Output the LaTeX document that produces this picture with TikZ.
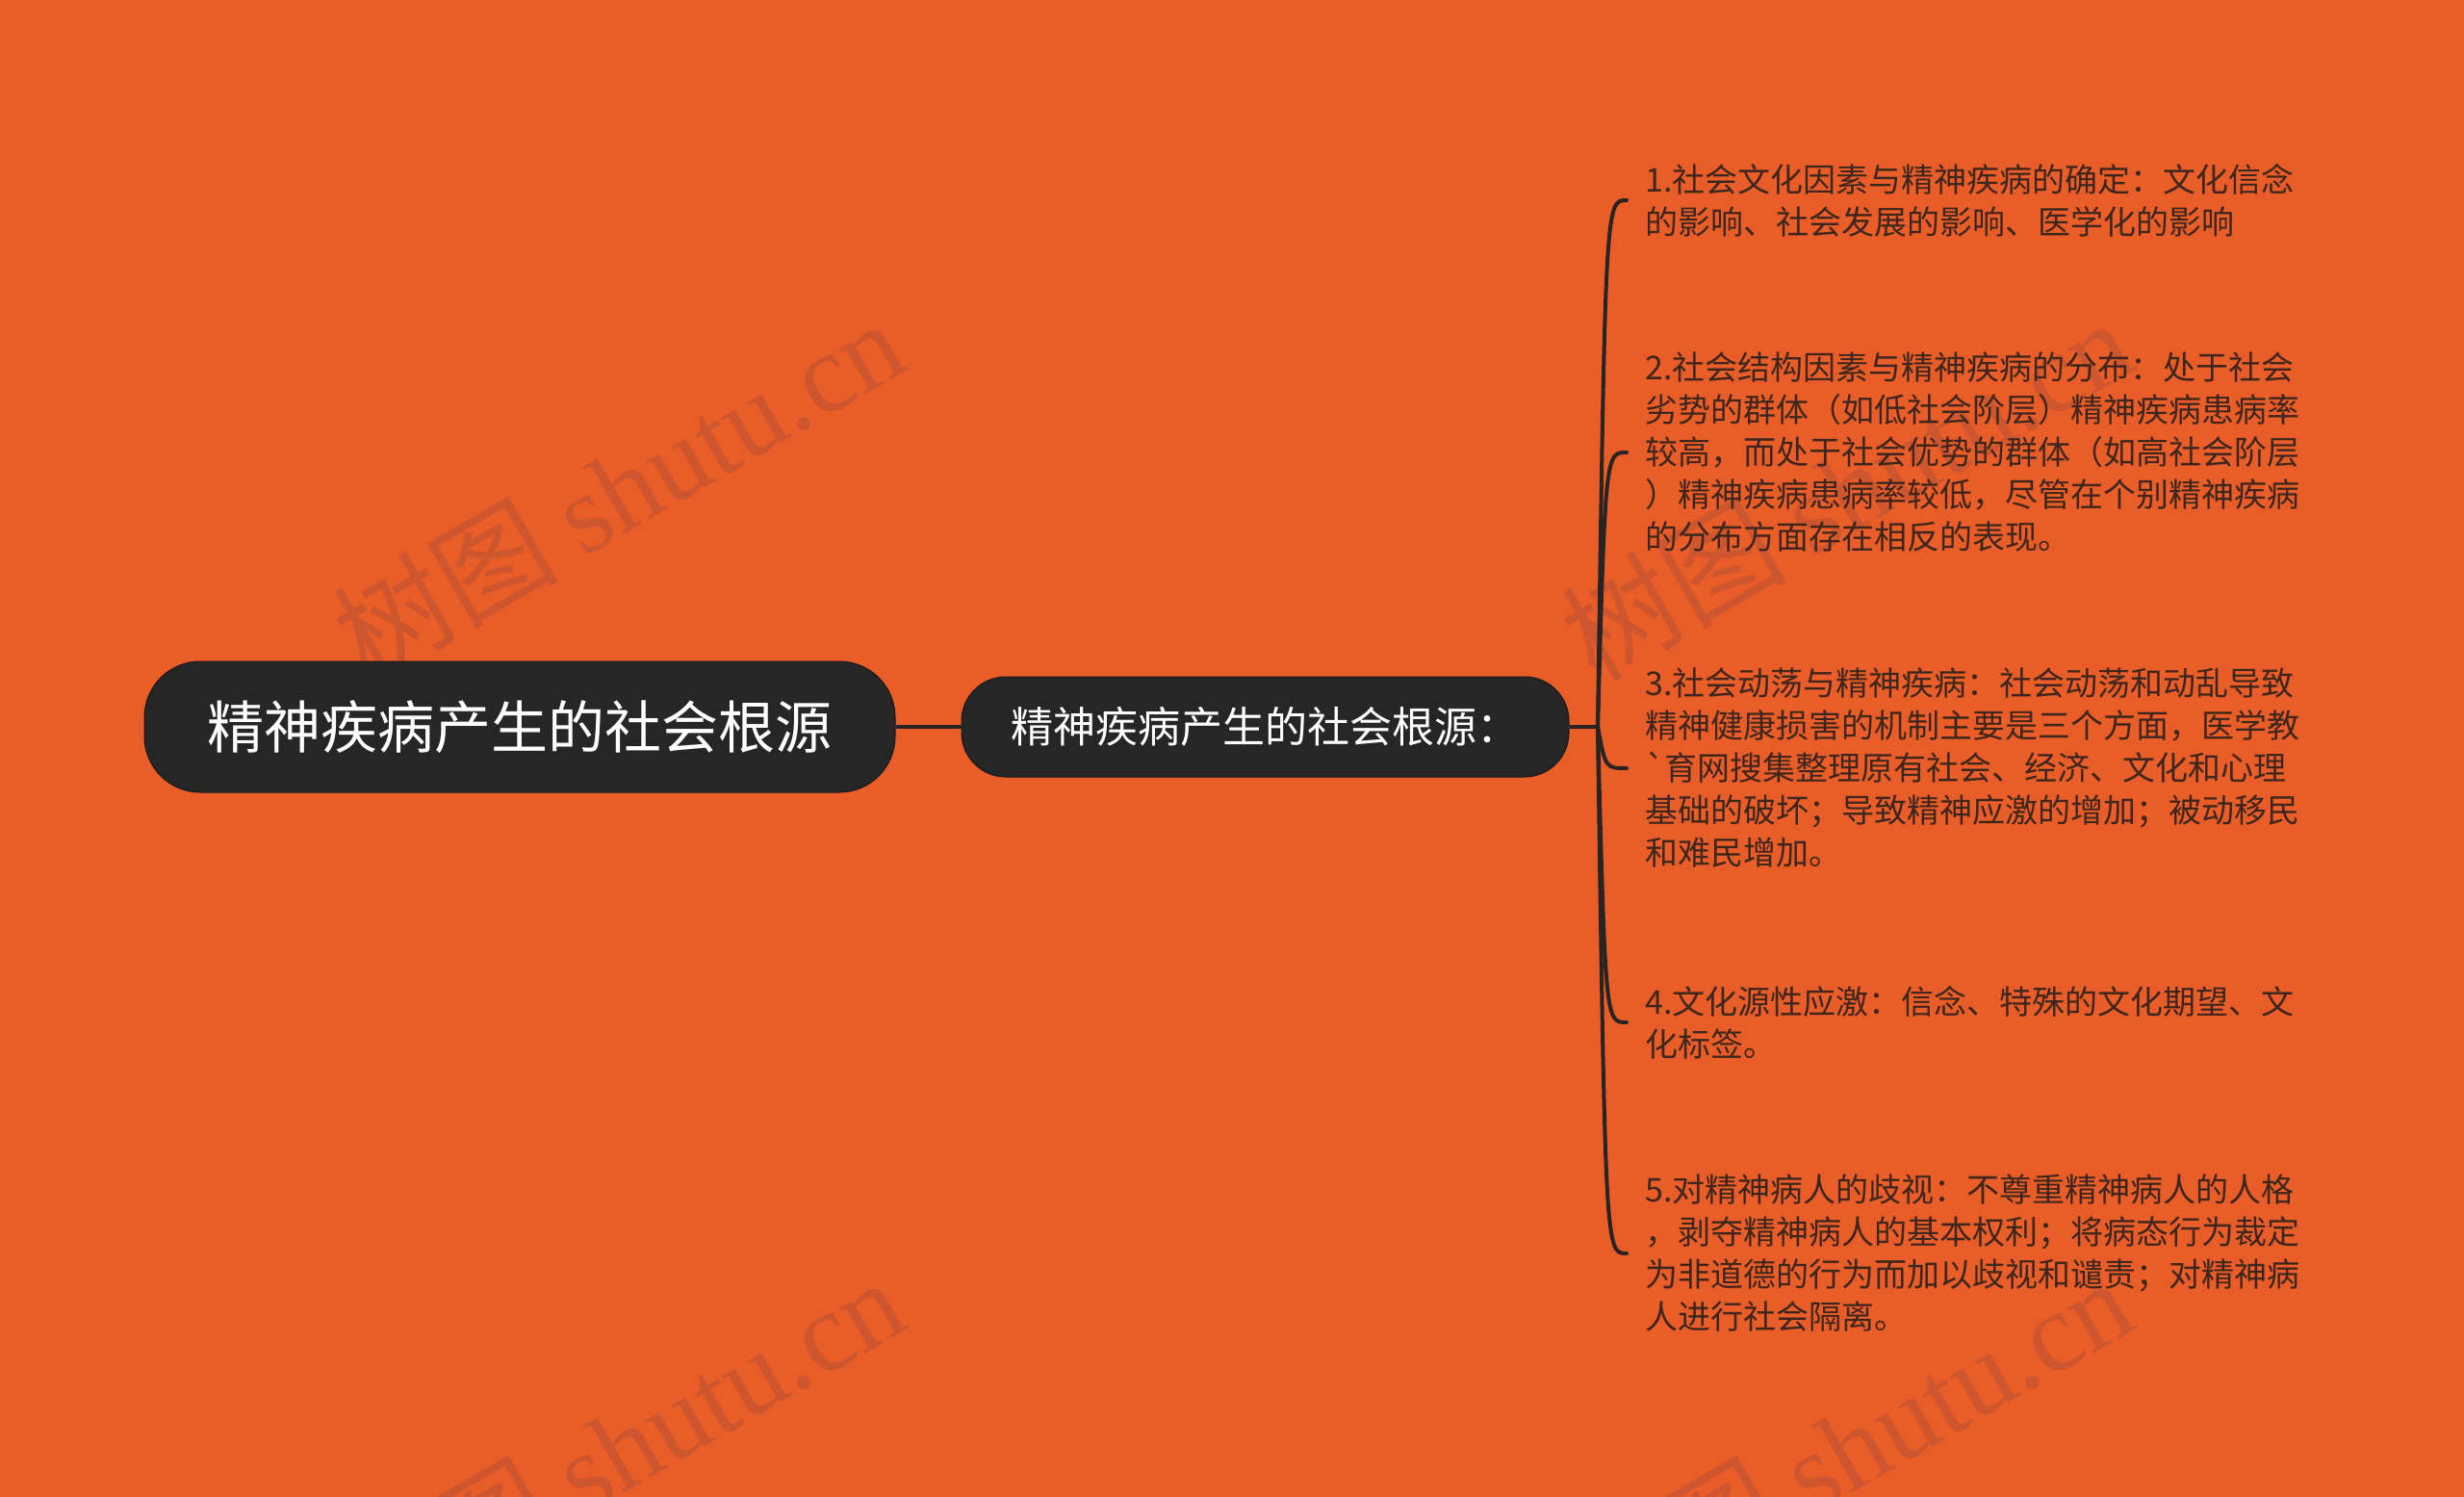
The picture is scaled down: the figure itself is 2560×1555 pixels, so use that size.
\documentclass[tikz,border=0pt]{standalone}
\usepackage{fontspec}
\setmainfont{Noto Sans CJK SC}
\newfontfamily\cjkfont{Noto Sans CJK SC}
\newfontfamily\wmserif{Liberation Serif}
\definecolor{bgorange}{RGB}{233,93,41}
\definecolor{wmcol}{RGB}{206,86,46}
\definecolor{nodedark}{RGB}{38,38,38}
\definecolor{linedark}{RGB}{40,36,34}
\definecolor{itemtext}{RGB}{62,38,28}
\tikzset{
  wmark/.style={text=wmcol, rotate=30, anchor=base, inner sep=0pt, font=\fontsize{117pt}{125pt}\selectfont},
  rootbox/.style={fill=nodedark, draw=black!90, line width=1pt, rounded corners=58pt, minimum width=780pt, minimum height=136pt, text=white, inner sep=0pt, font=\cjkfont\fontsize{59pt}{70pt}\selectfont},
  subbox/.style={fill=nodedark, draw=black!90, line width=1pt, rounded corners=46pt, minimum width=631pt, minimum height=104pt, text=white, inner sep=0pt, font=\cjkfont\fontsize{44pt}{52pt}\selectfont},
  itembox/.style={anchor=west, align=left, inner xsep=19pt, inner ysep=0pt, text=itemtext, font=\cjkfont\fontsize{34pt}{44pt}\selectfont},
  link/.style={draw=linedark, line width=4pt},
  branch/.style={draw=linedark, line width=4pt, line cap=round},
}
\begin{document}
\begin{tikzpicture}[x=1pt,y=-1pt]
\useasboundingbox[fill=bgorange] (0,0) rectangle (2560,1555);
% watermarks
\node[wmark] (w1) at (664,546) {树图 {\wmserif shutu.cn}};
\node[wmark] (w2) at (1940,546) {树图 {\wmserif shutu.cn}};
\node[wmark] (w3) at (664,1542) {树图 {\wmserif shutu.cn}};
\node[wmark] (w4) at (1940,1542) {树图 {\wmserif shutu.cn}};
% main nodes
\node[rootbox] (root) at (540,755) {精神疾病产生的社会根源};
\node[subbox] (sub) at (1314.5,755) {精神疾病产生的社会根源：};
\coordinate (j) at (1660,755);
\coordinate (jc) at (1668,755);
% items
\node[itembox] (i1) at (1690,208) {1.社会文化因素与精神疾病的确定：文化信念\\的影响、社会发展的影响、医学化的影响};
\node[itembox] (i2) at (1690,470) {2.社会结构因素与精神疾病的分布：处于社会\\劣势的群体（如低社会阶层）精神疾病患病率\\较高，而处于社会优势的群体（如高社会阶层\\）精神疾病患病率较低，尽管在个别精神疾病\\的分布方面存在相反的表现。};
\node[itembox] (i3) at (1690,798) {3.社会动荡与精神疾病：社会动荡和动乱导致\\精神健康损害的机制主要是三个方面，医学教\\\symbol{96}育网搜集整理原有社会、经济、文化和心理\\基础的破坏；导致精神应激的增加；被动移民\\和难民增加。};
\node[itembox] (i4) at (1690,1062) {4.文化源性应激：信念、特殊的文化期望、文\\化标签。};
\node[itembox] (i5) at (1690,1302) {5.对精神病人的歧视：不尊重精神病人的人格\\，剥夺精神病人的基本权利；将病态行为裁定\\为非道德的行为而加以歧视和谴责；对精神病\\人进行社会隔离。};
% connectors
\draw[link] (root.east) -- (sub.west);
\draw[link] (sub.east) -- (j);
\foreach \t in {i1,i2,i3,i4,i5}{
  \draw[branch] (j) .. controls (jc |- \t.west) and (jc |- \t.west) .. (\t.west);
}
\end{tikzpicture}
\end{document}
